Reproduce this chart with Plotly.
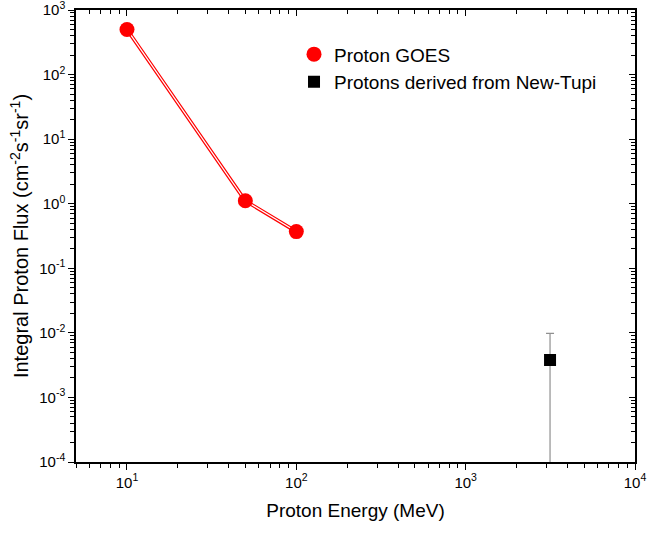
import plotly.graph_objects as go

goes_energy = [10, 50, 100]
goes_flux = [500, 1.11, 0.37]

tupi_energy = [3150]
tupi_flux = [0.0038]
tupi_err_plus = [0.0098 - 0.0038]
tupi_err_minus = [0.0038 - 1e-7]

x_ticks = [10, 100, 1000, 10000]
x_ticktext = ["10<sup>1</sup>", "10<sup>2</sup>", "10<sup>3</sup>", "10<sup>4</sup>"]
y_ticks = [1e-4, 1e-3, 1e-2, 1e-1, 1, 10, 100, 1000]
y_ticktext = ["10<sup>-4</sup>", "10<sup>-3</sup>", "10<sup>-2</sup>", "10<sup>-1</sup>",
              "10<sup>0</sup>", "10<sup>1</sup>", "10<sup>2</sup>", "10<sup>3</sup>"]

x_minor = [m * 10 ** e for e in range(0, 4) for m in range(2, 10)]
y_minor = [m * 10.0 ** e for e in range(-4, 3) for m in range(2, 10)]

FONT = "Liberation Sans, Arial, sans-serif"

fig = go.Figure()
# double line look for GOES
fig.add_trace(go.Scatter(x=goes_energy, y=goes_flux, mode="lines",
                         line=dict(color="#ff0000", width=3.6), showlegend=False, hoverinfo="skip"))
fig.add_trace(go.Scatter(x=goes_energy, y=goes_flux, mode="lines",
                         line=dict(color="#ffffff", width=1.2), showlegend=False, hoverinfo="skip"))
fig.add_trace(go.Scatter(x=goes_energy, y=goes_flux, mode="markers", name="Proton GOES",
                         marker=dict(color="#ff0000", size=15, symbol="circle")))
fig.add_trace(go.Scatter(x=tupi_energy, y=tupi_flux, mode="markers", name="Protons derived from New-Tupi",
                         marker=dict(color="#000000", size=12, symbol="square"),
                         error_y=dict(type="data", array=tupi_err_plus, arrayminus=tupi_err_minus,
                                      color="#909090", thickness=1.2, width=4)))
# invisible trace for mirrored axes
fig.add_trace(go.Scatter(x=[10], y=[1], xaxis="x2", yaxis="y2", mode="markers",
                         marker=dict(opacity=0), showlegend=False, hoverinfo="skip"))

axis_common = dict(showgrid=False, zeroline=False, showline=True, linecolor="black", linewidth=1.5,
                   tickcolor="black", tickwidth=1.2, type="log", automargin=False,
                   ticklabeloverflow="allow")

fig.update_layout(
    width=663, height=535,
    margin=dict(l=76, r=28, t=10, b=73),
    plot_bgcolor="white", paper_bgcolor="white",
    font=dict(family=FONT, color="black"),
    xaxis=dict(**axis_common, range=[0.69897, 4], ticks="outside", ticklen=6,
               tickmode="array", tickvals=x_ticks, ticktext=x_ticktext,
               tickfont=dict(size=15),
               minor=dict(tickmode="array", tickvals=x_minor, ticks="outside", ticklen=4,
                          tickcolor="black", tickwidth=1),
               title=dict(text="Proton Energy (MeV)", font=dict(size=19), standoff=14)),
    yaxis=dict(**axis_common, range=[-4, 3], ticks="outside", ticklen=6,
               tickmode="array", tickvals=y_ticks, ticktext=y_ticktext,
               tickfont=dict(size=15),
               minor=dict(tickmode="array", tickvals=y_minor, ticks="outside", ticklen=4,
                          tickcolor="black", tickwidth=1),
               title=dict(text="Integral Proton Flux (cm<sup>-2</sup>s<sup>-1</sup>sr<sup>-1</sup>)",
                          font=dict(size=20), standoff=5)),
    xaxis2=dict(**axis_common, range=[0.69897, 4], overlaying="x", side="top", anchor="y",
                ticks="inside", ticklen=6, tickmode="array", tickvals=x_ticks, showticklabels=False,
                minor=dict(tickmode="array", tickvals=x_minor, ticks="inside", ticklen=4,
                           tickcolor="black", tickwidth=1)),
    yaxis2=dict(**axis_common, range=[-4, 3], overlaying="y", side="right", anchor="x",
                ticks="inside", ticklen=6, tickmode="array", tickvals=y_ticks, showticklabels=False,
                minor=dict(tickmode="array", tickvals=y_minor, ticks="inside", ticklen=4,
                           tickcolor="black", tickwidth=1)),
    legend=dict(x=0.39, y=0.944, xanchor="left", yanchor="top", bgcolor="rgba(0,0,0,0)",
                font=dict(size=19), itemsizing="trace", tracegroupgap=0),
)

fig.write_html("out.html", config={"displayModeBar": False},
               post_script="document.body.style.margin='0';document.body.style.overflow='hidden';")
